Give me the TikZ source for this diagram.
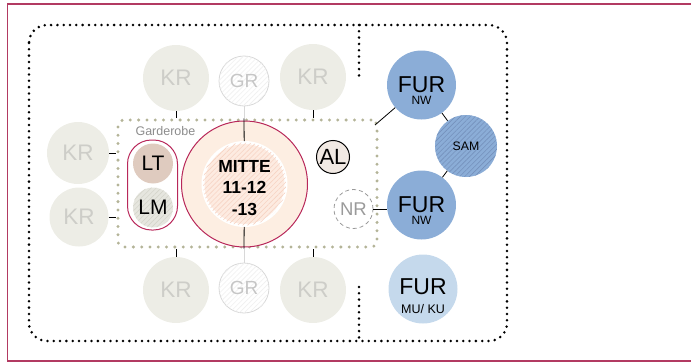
\documentclass[tikz,border=0pt]{standalone}
\usepackage{fontspec}
\setmainfont{Liberation Sans}
\usetikzlibrary{patterns.meta}
\definecolor{framec}{HTML}{B23A62}
\definecolor{krfill}{HTML}{EDEDE6}
\definecolor{krtext}{HTML}{CDCDC8}
\definecolor{grdraw}{HTML}{D8D8D8}
\definecolor{grhatch}{HTML}{F0F0F0}
\definecolor{grtext}{HTML}{C6C6C6}
\definecolor{gdot}{HTML}{B4B498}
\definecolor{mitteb}{HTML}{B8285A}
\definecolor{mittefill}{HTML}{FDEEE2}
\definecolor{mitteinfill}{HTML}{FDEBE1}
\definecolor{mittehatch}{HTML}{F7D3C3}
\definecolor{ltfill}{HTML}{DFCBBF}
\definecolor{lmfill}{HTML}{E6E6DF}
\definecolor{lmhatch}{HTML}{D5D5CB}
\definecolor{alfill}{HTML}{F1E9E3}
\definecolor{nrc}{HTML}{9A9A9A}
\definecolor{furc}{HTML}{8BADD7}
\definecolor{samhatch}{HTML}{7591BC}
\definecolor{furlight}{HTML}{C5D9EC}
\definecolor{gardc}{HTML}{8C8C8C}
\newcommand{\fs}[1]{\fontsize{#1}{#1}\selectfont}
\begin{document}
\begin{tikzpicture}[x=1pt,y=-1pt,
  hatch/.style={postaction={pattern={Lines[angle=45,distance=3.5pt,line width=0.6pt]},pattern color=#1}},
  circ/.style={circle,inner sep=0pt},
  kr/.style={circ,fill=krfill,text=krtext,font=\fs{22.5}},
  gr/.style={circ,draw=grdraw,line width=0.8pt,fill=white,hatch=grhatch,text=grtext,font=\fs{19},minimum size=50pt},
  gbox/.style={rectangle,inner sep=0pt,draw=gdot,line width=3.3pt,dash pattern=on 0pt off 8.3pt,line cap=round,rounded corners=6pt},
  bdots/.style={draw=black,line width=2.8pt,dash pattern=on 0pt off 6.3pt,line cap=round},
  fur/.style={circ,fill=furc,minimum size=69pt,text depth=0pt},
  conn/.style={draw=black,line width=0.8pt},
  tickline/.style={draw=black,line width=0.8pt},
  grayline/.style={draw=grdraw,line width=0.8pt}]
\useasboundingbox (0,0) rectangle (691,364);
% outer frame
\draw[framec,line width=1.8pt] (7.5,4) rectangle (720,361);
% black dotted area
\draw[bdots,rounded corners=18pt] (29,25) rectangle (507,341);
\draw[bdots] (359,25) -- (359,78);
\draw[bdots] (359,287) -- (359,341);
% green dotted box
\node[gbox,minimum width=259pt,minimum height=127pt] (gbox) at (247.5,183.5) {};
\coordinate (gcorner) at (375,125);
\node[anchor=west,text=gardc,font=\fs{12.5}] (gard) at (132,131) {Garderobe};
% KR rooms
\node[kr,minimum size=66pt] (krTL) at (176,78) {KR};
\node[kr,minimum size=66pt] (krTR) at (313,77) {KR};
\node[kr,minimum size=62pt] (krL1) at (78,153) {KR};
\node[kr,minimum size=59pt] (krL2) at (79,217) {KR};
\node[kr,minimum size=66pt] (krBL) at (176,290) {KR};
\node[kr,minimum size=66pt] (krBR) at (313,290) {KR};
% GR
\node[gr] (grT) at (244,81) {GR};
\node[gr] (grB) at (244,288) {GR};
% MITTE
\node[circ,minimum size=126pt,fill=mittefill,draw=mitteb,line width=1pt] (mitte) at (244.5,184) {};
\node[circ,minimum size=83pt,fill=mitteinfill,draw=white,line width=3pt,hatch=mittehatch,
  font=\bfseries\fs{17.5},text height=62pt,text depth=0pt] (mitteIn) at (244.5,184)
  {\shortstack{MITTE\\[6pt]11-12\\[6pt]-13}};
% Garderobe pill
\node[rectangle,minimum width=50pt,minimum height=90pt,rounded corners=24pt,draw=mitteb,line width=1pt] (pill) at (152.5,185) {};
\node[circ,minimum size=40pt,fill=ltfill,font=\fs{21}] (lt) at (153,163.5) {LT};
\node[circ,minimum size=40pt,fill=lmfill,hatch=lmhatch,font=\fs{21}] (lm) at (153,207.5) {LM};
% AL, NR
\node[circ,minimum size=33pt,fill=alfill,draw=black,line width=1pt,font=\fs{22}] (al) at (333,157) {AL};
\node[circ,minimum size=39pt,draw=nrc,line width=0.8pt,dash pattern=on 4pt off 3pt,text=nrc,font=\fs{18.5}] (nr) at (353.5,209) {NR};
% FUR
\node[fur,text height=38pt] (furA) at (421.5,85) {\shortstack{\fs{23}FUR\\[0.5pt]\fs{12}NW}};
\node[fur,hatch=samhatch,minimum size=62pt,font=\fs{12.3}] (sam) at (466,146) {SAM};
\node[fur,text height=38pt] (furB) at (421.5,205) {\shortstack{\fs{23}FUR\\[0.5pt]\fs{12}NW}};
\node[fur,fill=furlight,text height=48pt] (furC) at (423,289) {\shortstack{\fs{23}FUR\\[6pt]\fs{12.5}MU/ KU}};
% ticks
\draw[tickline] (krTL) -- (krTL |- gbox.north);
\draw[tickline] (krTR) -- (krTR |- gbox.north);
\draw[tickline] (krBL) -- (krBL |- gbox.south);
\draw[tickline] (krBR) -- (krBR |- gbox.south);
\draw[tickline] (krL1) -- (krL1 -| gbox.west);
\draw[tickline] (krL2) -- (krL2 -| gbox.west);
% GR to MITTE
\draw[grayline] (grT) -- (grT |- gbox.north) coordinate (gtop);
\draw[conn] (gtop) -- (mitteIn);
\draw[grayline] (grB) -- (grB |- gbox.south) coordinate (gbot);
\draw[conn] (gbot) -- (mitteIn);
% FUR connections
\draw[conn] (furA) -- (gcorner);
\draw[conn] (furA) -- (sam);
\draw[conn] (sam) -- (furB);
\draw[conn] (nr) -- (furB.west |- nr);
\end{tikzpicture}
\end{document}
